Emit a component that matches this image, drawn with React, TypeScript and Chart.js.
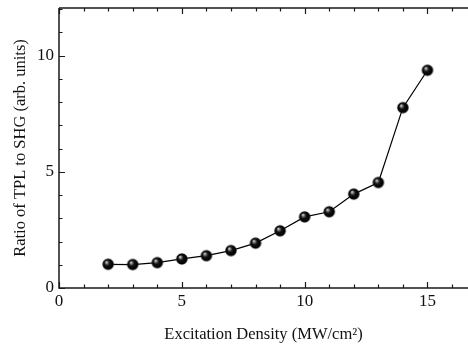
import { useEffect, useRef } from "react";
import { Chart, registerables } from "chart.js";

Chart.register(...registerables);

// Excitation density (MW/cm²) and measured TPL/SHG ratio
const excitationDensity = [2, 3, 4, 5, 6, 7, 8, 9, 10, 11, 12, 13, 14, 15];
const tplToShgRatio = [1.02, 1.01, 1.09, 1.25, 1.39, 1.61, 1.93, 2.46, 3.06, 3.28, 4.04, 4.54, 7.76, 9.37];

const xTickValues = [0, 5, 10, 15];
const yTickValues = [0, 5, 10];

const X_MIN = 0;
const X_MAX = 16.65;
const Y_MIN = 0;
const Y_MAX = 12.05;

const SERIF = "'Liberation Serif', 'Times New Roman', serif";

// Shaded sphere used as the point marker
function makeSphere(radius: number): HTMLCanvasElement {
  const size = Math.ceil(radius * 2) + 2;
  const c = document.createElement("canvas");
  c.width = size;
  c.height = size;
  const g = c.getContext("2d")!;
  const cx = size / 2;
  const cy = size / 2;
  const grad = g.createRadialGradient(cx - radius * 0.35, cy - radius * 0.4, 0, cx, cy, radius);
  grad.addColorStop(0, "#ffffff");
  grad.addColorStop(0.16, "#9a9a9a");
  grad.addColorStop(0.45, "#141414");
  grad.addColorStop(0.85, "#000000");
  grad.addColorStop(1, "#3a3a3a");
  g.fillStyle = grad;
  g.beginPath();
  g.arc(cx, cy, radius, 0, Math.PI * 2);
  g.fill();
  return c;
}

// Frame with inward-pointing major and minor ticks
const framePlugin = {
  id: "frame",
  beforeDatasetsDraw(chart: any) {
    const { ctx, chartArea, scales } = chart;
    const { left, right, top, bottom } = chartArea;
    const x = scales.x;
    const y = scales.y;
    ctx.save();
    ctx.strokeStyle = "#1a1a1a";
    ctx.lineWidth = 1.5;
    ctx.beginPath();
    ctx.moveTo(left, top);
    ctx.lineTo(right + 2, top);
    ctx.moveTo(left, top);
    ctx.lineTo(left, bottom);
    ctx.lineTo(right + 2, bottom);
    ctx.stroke();

    ctx.lineWidth = 1.2;
    ctx.beginPath();
    for (let v = Math.ceil(x.min); v <= x.max; v++) {
      const px = Math.round(x.getPixelForValue(v)) + 0.5;
      const len = v % 5 === 0 ? 6 : 3.5;
      ctx.moveTo(px, bottom);
      ctx.lineTo(px, bottom - len);
      ctx.moveTo(px, top);
      ctx.lineTo(px, top + len);
    }
    for (let v = Math.ceil(y.min); v <= y.max; v++) {
      const py = Math.round(y.getPixelForValue(v)) + 0.5;
      const len = v % 5 === 0 ? 6 : 3.5;
      ctx.moveTo(left, py);
      ctx.lineTo(left + len, py);
    }
    ctx.stroke();
    ctx.restore();
  },
};

export default function App() {
  const canvasRef = useRef<HTMLCanvasElement | null>(null);

  useEffect(() => {
    const canvas = canvasRef.current;
    if (!canvas) return;
    const sphere = makeSphere(5.8);

    const chart = new Chart(canvas, {
      type: "line",
      data: {
        datasets: [
          {
            data: excitationDensity.map((xv, i) => ({ x: xv, y: tplToShgRatio[i] })),
            borderColor: "#000000",
            borderWidth: 1.2,
            tension: 0,
            fill: false,
            pointStyle: sphere as any,
            pointRadius: 6,
            pointHoverRadius: 6,
          },
        ],
      },
      options: {
        animation: false,
        responsive: false,
        maintainAspectRatio: false,
        devicePixelRatio: 1,
        layout: { autoPadding: false, padding: { top: 8, right: 0, bottom: 0, left: 0 } },
        plugins: {
          legend: { display: false },
          tooltip: { enabled: false },
        },
        scales: {
          x: {
            type: "linear",
            min: X_MIN,
            max: X_MAX,
            grid: { display: false, drawTicks: false },
            border: { display: false },
            afterBuildTicks: (scale: any) => {
              scale.ticks = xTickValues.map((v) => ({ value: v }));
            },
            afterFit: (scale: any) => {
              scale.height = 59;
              scale.paddingLeft = 0;
              scale.paddingRight = 0;
            },
            ticks: {
              color: "#111111",
              font: { family: SERIF, size: 17 },
              padding: 3,
              maxRotation: 0,
            },
            title: {
              display: true,
              text: "Excitation Density (MW/cm²)",
              color: "#111111",
              font: { family: SERIF, size: 16.5 },
              padding: { top: 0, bottom: 2 },
            },
          },
          y: {
            type: "linear",
            min: Y_MIN,
            max: Y_MAX,
            grid: { display: false, drawTicks: false },
            border: { display: false },
            afterBuildTicks: (scale: any) => {
              scale.ticks = yTickValues.map((v) => ({ value: v }));
            },
            afterFit: (scale: any) => {
              scale.width = 59;
              scale.paddingTop = 0;
              scale.paddingBottom = 0;
            },
            ticks: {
              color: "#111111",
              font: { family: SERIF, size: 17 },
              padding: 5,
            },
            title: {
              display: true,
              text: "Ratio of TPL to SHG (arb. units)",
              color: "#111111",
              font: { family: SERIF, size: 16.5 },
              padding: { top: 11, bottom: 0 },
            },
          },
        },
      },
      plugins: [framePlugin],
    });

    return () => chart.destroy();
  }, []);

  return (
    <div style={{ position: "fixed", left: 0, top: 0, width: 468, height: 347, background: "#ffffff" }}>
      <canvas ref={canvasRef} width={468} height={347} style={{ display: "block" }} />
    </div>
  );
}
